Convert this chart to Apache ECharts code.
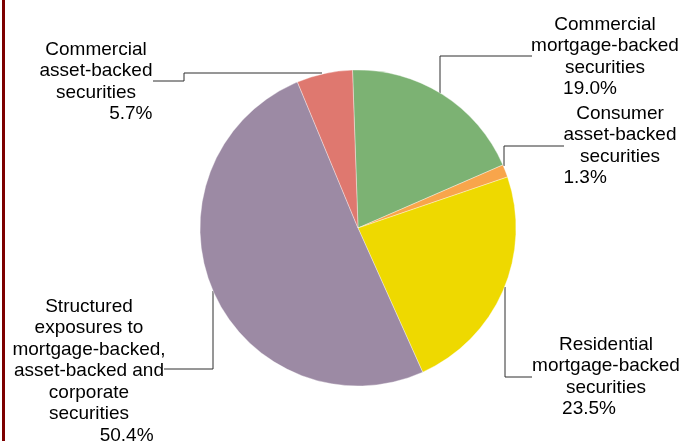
<!DOCTYPE html>
<html>
<head>
<meta charset="utf-8">
<script src="https://cdn.jsdelivr.net/npm/echarts@6/dist/echarts.min.js"></script>
<style>
html,body{margin:0;padding:0;background:#fff;}
#chart{width:682px;height:441px;}
</style>
</head>
<body>
<div id="chart"></div>
<script>
// ---- data ----
const categories = [
  'Commercial\nmortgage-backed\nsecurities',
  'Consumer\nasset-backed\nsecurities',
  'Residential\nmortgage-backed\nsecurities',
  'Structured\nexposures to\nmortgage-backed,\nasset-backed and\ncorporate\nsecurities',
  'Commercial\nasset-backed\nsecurities'
];
const values = [19.0, 1.3, 23.5, 50.4, 5.7];
const percentLabels = ['19.0%', '1.3%', '23.5%', '50.4%', '5.7%'];

// ---- styling / layout ----
const colors = ['#7cb273', '#f8a54b', '#eed900', '#9c8aa4', '#df786f'];
const FONT = 'Liberation Sans, Arial, sans-serif';
const FS = 19;
const LH = 21.5;
// label anchor (center x, top y), percent alignment & offset
const labelPos = [
  {x: 605, y: 14, pAlign: 'left', pad: 32},
  {x: 620, y: 103, pAlign: 'left', pad: 0},
  {x: 606, y: 334, pAlign: 'left', pad: 30},
  {x: 89, y: 296, pAlign: 'right', pad: 12},
  {x: 96, y: 39, pAlign: 'right', pad: 0}
];
const linePts = [
  [[440, 93], [440, 56], [532, 56]],
  [[504, 166], [504, 146], [564, 146]],
  [[505, 287], [505, 377], [532, 377]],
  [[213, 291], [213, 369], [164, 369]],
  [[322, 73], [184, 73], [184, 81], [153, 81]]
];

const seriesData = categories.map((c, i) => ({
  name: c,
  value: values[i],
  itemStyle: {color: colors[i]},
  label: {
    formatter: '{n|' + c + '}\n{p|' + percentLabels[i] + '}',
    overflow: 'none',
    rich: {
      n: {align: 'center', fontSize: FS, lineHeight: LH, color: '#000', fontFamily: FONT},
      p: {
        align: labelPos[i].pAlign, fontSize: FS, lineHeight: LH, color: '#000',
        fontFamily: FONT,
        padding: labelPos[i].pAlign === 'left' ? [0, 0, 0, labelPos[i].pad] : [0, labelPos[i].pad, 0, 0]
      }
    }
  }
}));

const chart = echarts.init(document.getElementById('chart'), null, {renderer: 'canvas'});
chart.setOption({
  animation: false,
  backgroundColor: '#fff',
  graphic: [{
    type: 'rect', left: 2, top: 0,
    shape: {width: 3, height: 441},
    style: {fill: '#7d0000'}, silent: true
  }],
  series: [{
    type: 'pie',
    center: [358, 228],
    radius: 158,
    startAngle: 92,
    clockwise: true,
    data: seriesData,
    itemStyle: {borderColor: 'rgba(255,255,255,0.6)', borderWidth: 0.6},
    label: {show: true, position: 'outside', color: '#000', fontSize: FS, fontFamily: FONT,
      overflow: 'none', edgeDistance: 0, bleedMargin: 0},
    labelLine: {show: true, length: 10, length2: 10, smooth: false,
      lineStyle: {color: '#2e2e2e', width: 1}},
    labelLayout: function (params) {
      const p = labelPos[params.dataIndex];
      return {
        x: p.x, y: p.y, align: 'center', verticalAlign: 'top',
        labelLinePoints: linePts[params.dataIndex]
      };
    },
    emphasis: {disabled: true}
  }]
});
</script>
</body>
</html>
